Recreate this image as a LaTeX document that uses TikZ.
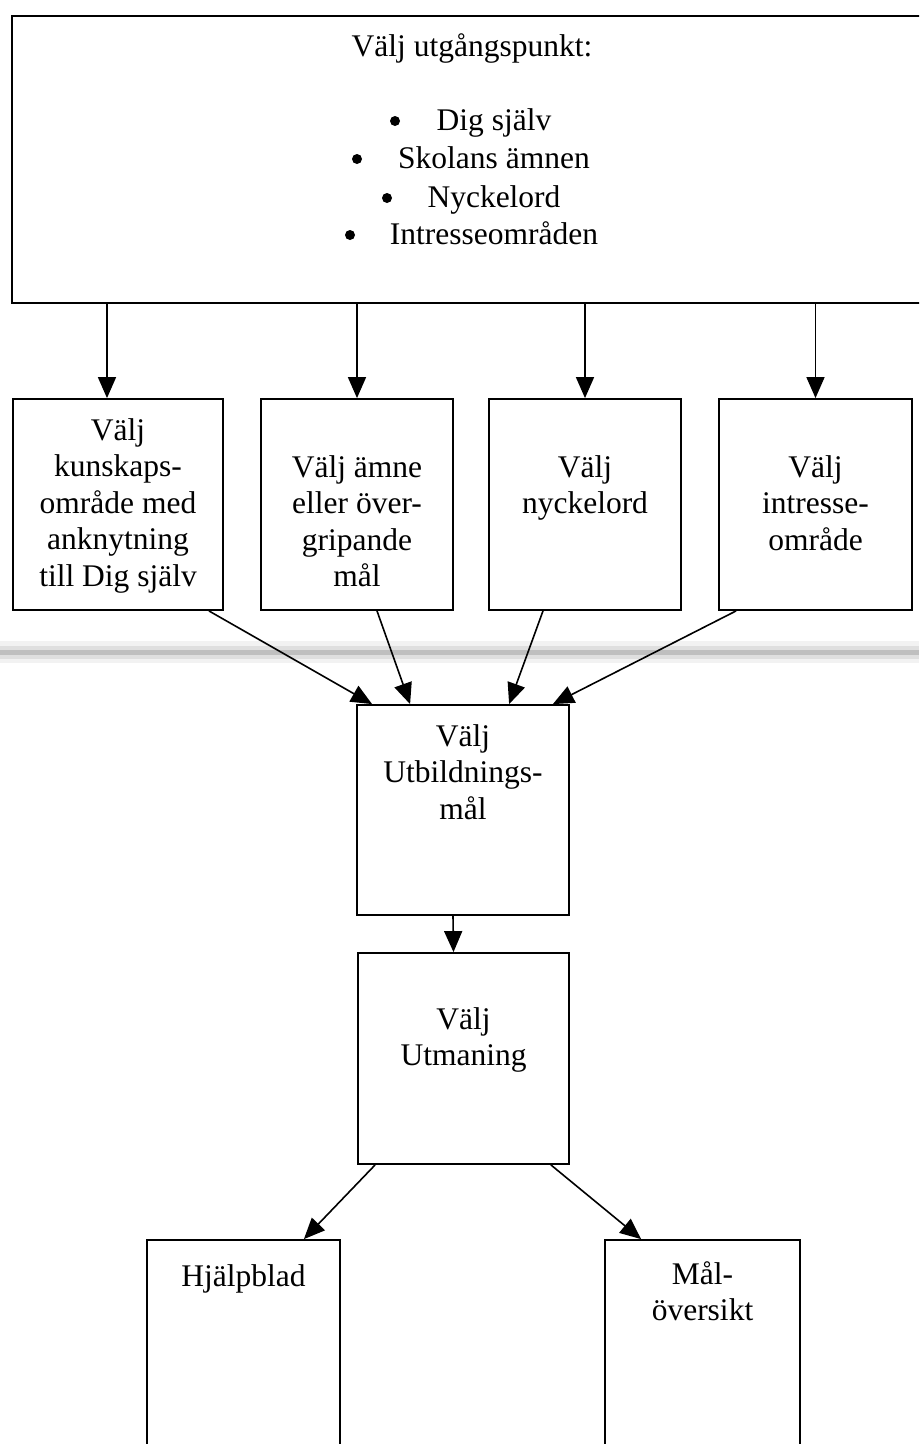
\documentclass[tikz,border=0pt]{standalone}
\usepackage{fontspec}
\setmainfont{Liberation Serif}
\usetikzlibrary{arrows.meta}
\newcommand\mystrut{\rule{0pt}{25pt}}
\begin{document}
\begin{tikzpicture}[x=1pt,y=-1pt,
  box/.style={draw, line width=1.8pt, rectangle, inner sep=0pt},
  arr/.style={line width=1.6pt, -{Triangle[length=21pt,width=18pt]}},
  txt/.style={font=\fontsize{31.5pt}{36.5pt}\selectfont, inner sep=0pt},
  lbl/.style={txt, align=center, anchor=north},
  dot/.style={circle, fill=black, inner sep=0pt, minimum size=10pt},
  band/.style={line cap=butt}]
\path[use as bounding box, clip] (0,0) rectangle (919,1444);
\fill[white] (0,0) rectangle (919,1444);

% scan band
\draw[band, line width=22pt, gray!10] (0,652) -- (919,652);
\draw[band, line width=13pt, gray!25] (0,652) -- (919,652);
\draw[band, line width=5pt, gray!50] (0,652) -- (919,652);

% boxes
\node[box, minimum width=923pt, minimum height=287pt] (top) at (473.5,159.5) {};
\node[box, minimum width=210pt, minimum height=211pt] (b1) at (118,504.5) {};
\node[box, minimum width=192pt, minimum height=211pt] (b2) at (357,504.5) {};
\node[box, minimum width=192pt, minimum height=211pt] (b3) at (585,504.5) {};
\node[box, minimum width=193pt, minimum height=211pt] (b4) at (815.5,504.5) {};
\node[box, minimum width=212pt, minimum height=210pt] (ut) at (463,810) {};
\node[box, minimum width=211pt, minimum height=211pt] (um) at (463.5,1058.5) {};
\node[box, minimum width=193pt, minimum height=240pt] (hj) at (243.5,1360) {};
\node[box, minimum width=195pt, minimum height=240pt] (ma) at (702.5,1360) {};

% texts
\node[txt, anchor=base] (title) at (472,56) {Välj utgångspunkt:};
\node[dot] (p1) at (395,121) {};
\node[txt, anchor=base] (i1) at (494,130) {Dig själv};
\node[dot] (p2) at (357,159) {};
\node[txt, anchor=base] (i2) at (494,168) {Skolans ämnen};
\node[dot] (p3) at (387,198) {};
\node[txt, anchor=base] (i3) at (494,207) {Nyckelord};
\node[dot] (p4) at (350,235) {};
\node[txt, anchor=base] (i4) at (494,244) {Intresseområden};

\node[lbl] (t1) at (118,415) {\mystrut Välj\\kunskaps-\\område med\\anknytning\\till Dig själv};
\node[lbl] (t2) at (357,452) {\mystrut Välj ämne\\eller över-\\gripande\\mål};
\node[lbl] (t3) at (585,452) {\mystrut Välj\\nyckelord};
\node[lbl] (t4) at (815.5,452) {\mystrut Välj\\intresse-\\område};
\node[lbl] (t5) at (463,721) {\mystrut Välj\\Utbildnings-\\mål};
\node[lbl] (t6) at (463.5,1004) {\mystrut Välj\\Utmaning};
\node[lbl] (t7) at (243.5,1261) {\mystrut Hjälpblad};
\node[lbl] (t8) at (702.5,1259) {\mystrut Mål-\\översikt};

% connectors
\draw[arr] ([xshift=-11pt]b1.north |- top.south) -- ([xshift=-11pt]b1.north);
\draw[arr] (b2.north |- top.south) -- (b2.north);
\draw[arr] (b3.north |- top.south) -- (b3.north);
\draw[arr] (b4.north |- top.south) -- (b4.north);

\draw[arr] ([xshift=-15pt]b1.south east) -- ([xshift=16pt]ut.north west);
\draw[arr] ([xshift=20pt]b2.south) -- ([xshift=54pt]ut.north west);
\draw[arr] ([xshift=-42pt]b3.south) -- ([xshift=153pt]ut.north west);
\draw[arr] ([xshift=18pt]b4.south west) -- ([xshift=-17pt]ut.north east);

\draw[arr] ([xshift=-10pt]ut.south) -- ([xshift=-10pt]um.north);

\draw[arr] ([xshift=18pt]um.south west) -- ([xshift=-37pt]hj.north east);
\draw[arr] ([xshift=-19pt]um.south east) -- ([xshift=37pt]ma.north west);
\end{tikzpicture}
\end{document}
